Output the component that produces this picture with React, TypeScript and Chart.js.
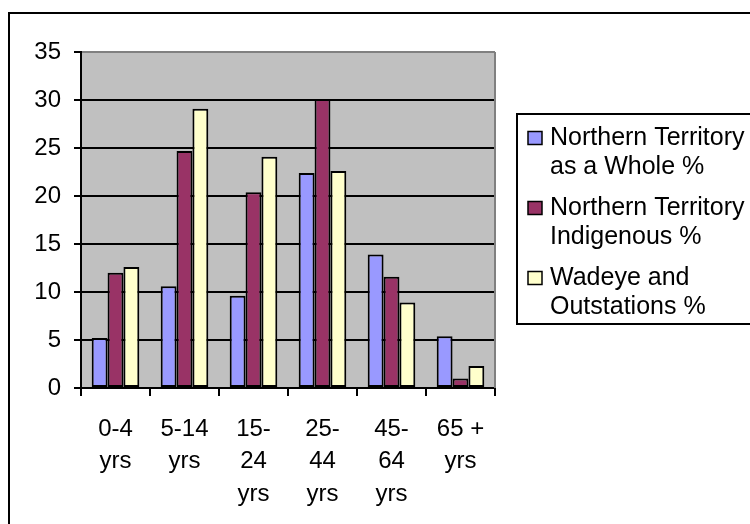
import React, { useEffect, useRef } from "react";
import { Chart, registerables } from "chart.js";

Chart.register(...registerables);

const categories: string[][] = [
  ["0-4", "yrs"],
  ["5-14", "yrs"],
  ["15-", "24", "yrs"],
  ["25-", "44", "yrs"],
  ["45-", "64", "yrs"],
  ["65 +", "yrs"],
];

const ntWhole = [5.2, 10.6, 9.6, 22.4, 13.9, 5.4];
const ntIndigenous = [12.0, 24.7, 20.4, 30.1, 11.6, 1.0];
const wadeye = [12.6, 29.1, 24.1, 22.6, 8.9, 2.3];

const legendLabels: string[][] = [
  ["Northern Territory", "as a Whole %"],
  ["Northern Territory", "Indigenous %"],
  ["Wadeye and", "Outstations %"],
];

const colors = ["#9999FF", "#993366", "#FFFFCC"];
const FONT = "Liberation Sans, Arial, sans-serif";

const framePlugin = {
  id: "frame",
  beforeDraw(chart: any) {
    const { ctx, chartArea } = chart;
    ctx.save();
    ctx.fillStyle = "#FFFFFF";
    ctx.fillRect(0, 0, chart.width, chart.height);
    ctx.fillStyle = "#C0C0C0";
    ctx.fillRect(chartArea.left, chartArea.top, chartArea.right - chartArea.left, chartArea.bottom - chartArea.top);
    ctx.restore();
  },
  afterDraw(chart: any) {
    const { ctx, chartArea } = chart;
    ctx.save();
    // plot area right border
    ctx.strokeStyle = "#808080";
    ctx.lineWidth = 2;
    ctx.beginPath();
    ctx.moveTo(chartArea.right, chartArea.top);
    ctx.lineTo(chartArea.right, chartArea.bottom);
    ctx.stroke();
    // outer chart border
    ctx.strokeStyle = "#000000";
    ctx.lineWidth = 2;
    ctx.strokeRect(9, 13, 800, 600);
    // legend
    const lx = 517;
    const ly = 114;
    ctx.fillStyle = "#FFFFFF";
    ctx.fillRect(lx, ly, 300, 210);
    ctx.strokeRect(lx, ly, 300, 210);
    ctx.font = "25px " + FONT;
    ctx.textBaseline = "middle";
    ctx.textAlign = "left";
    legendLabels.forEach((lines, i) => {
      const y0 = 138 + i * 70;
      ctx.fillStyle = colors[i];
      ctx.fillRect(528, y0 - 6.5, 14, 13);
      ctx.lineWidth = 1.5;
      ctx.strokeStyle = "#000";
      ctx.strokeRect(528, y0 - 6.5, 14, 13);
      ctx.fillStyle = "#000";
      lines.forEach((t, j) => {
        ctx.fillText(t, 550, y0 + j * 29);
      });
    });
    ctx.restore();
  },
};

export default function App() {
  const ref = useRef<HTMLCanvasElement>(null);
  useEffect(() => {
    document.body.style.margin = "0";
    const canvas = ref.current!;
    const chart = new Chart(canvas, {
      type: "bar",
      data: {
        labels: categories,
        datasets: [
          { label: legendLabels[0].join(" "), data: ntWhole, backgroundColor: colors[0] },
          { label: legendLabels[1].join(" "), data: ntIndigenous, backgroundColor: colors[1] },
          { label: legendLabels[2].join(" "), data: wadeye, backgroundColor: colors[2] },
        ].map((d) => ({ ...d, borderColor: "#000", borderWidth: 2, borderSkipped: false as any })),
      },
      options: {
        responsive: false,
        animation: false,
        layout: { padding: { left: 0, top: 52, right: 255, bottom: 0 } },
        datasets: { bar: { barPercentage: 1, categoryPercentage: 0.69 } },
        plugins: { legend: { display: false }, tooltip: { enabled: false } },
        scales: {
          x: {
            afterFit: (s: any) => { s.height = 136; },
            grid: { drawOnChartArea: false, drawTicks: true, tickLength: 8, color: "#000", lineWidth: 2 },
            border: { display: true, color: "#000", width: 2 },
            ticks: {
              color: "#000",
              font: { family: FONT, size: 24, lineHeight: 1.35 },
              maxRotation: 0,
              autoSkip: false,
              padding: 17,
            },
          },
          y: {
            min: 0,
            max: 35,
            afterFit: (s: any) => { s.width = 81; },
            grid: {
              color: (c: any) => (c.tick && c.tick.value === 35 ? "#808080" : "#000"),
              tickColor: "#000",
              lineWidth: 2,
              tickLength: 7,
            },
            border: { display: true, color: "#000", width: 2 },
            ticks: {
              stepSize: 5,
              color: "#000",
              font: { family: FONT, size: 24 },
              padding: 13,
            },
          },
        },
      },
      plugins: [framePlugin],
    });
    return () => chart.destroy();
  }, []);
  return <canvas ref={ref} width={750} height={524} style={{ display: "block", width: 750, height: 524 }} />;
}
